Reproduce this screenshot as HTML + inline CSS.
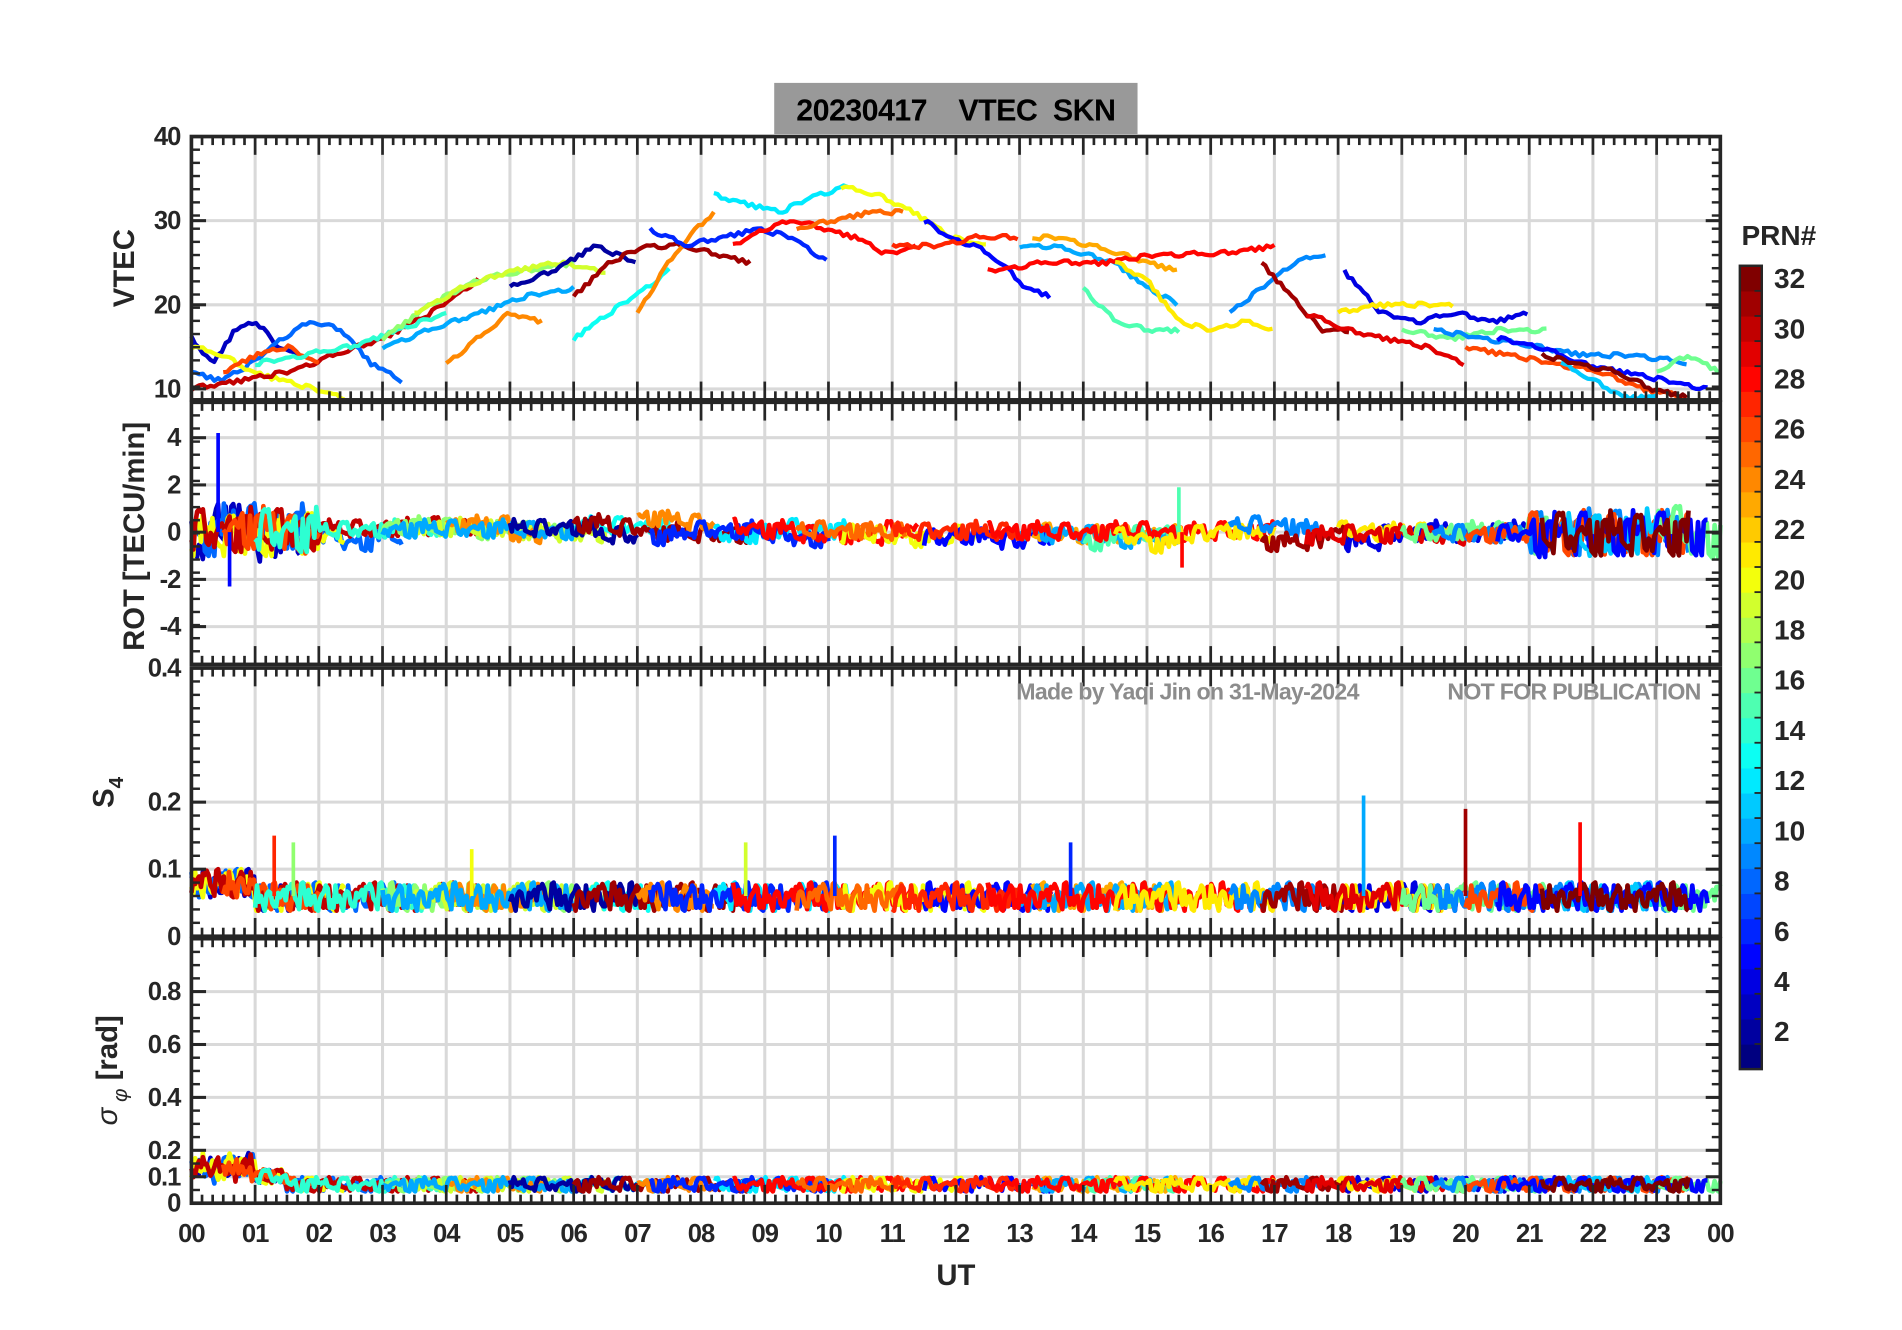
<!DOCTYPE html>
<html><head><meta charset="utf-8"><style>
html,body{margin:0;padding:0;background:#fff}
svg{display:block}
text{font-family:"Liberation Sans Narrow","Liberation Sans",sans-serif;font-weight:bold;fill:#262626}
.pre{white-space:pre}
</style></head><body>
<svg id="chart" width="1902" height="1330" viewBox="0 0 1560 1091" preserveAspectRatio="none" xmlns="http://www.w3.org/2000/svg">
<rect width="1560" height="1091" fill="#fff"/>
<g id="grid"></g>
<g id="marks"></g>
<g id="axes"></g>
<rect x="635" y="68" width="298" height="42" fill="#999"/>
<text class="pre" xml:space="preserve" x="784" y="99" text-anchor="middle" font-size="25" letter-spacing="-0.5" style="fill:#000">20230417    VTEC  SKN</text>
<text x="974" y="574" text-anchor="middle" font-size="19" letter-spacing="-0.6" style="fill:#8c8c8c">Made by Yaqi Jin on 31-May-2024</text>
<text x="1291" y="574" text-anchor="middle" font-size="19" letter-spacing="-0.6" style="fill:#8c8c8c">NOT FOR PUBLICATION</text>
<text x="784" y="1054" text-anchor="middle" font-size="24">UT</text>
<text transform="translate(110,220) rotate(-90)" text-anchor="middle" font-size="24" style="font-family:'Liberation Sans',sans-serif">VTEC</text>
<text transform="translate(118,440) rotate(-90)" text-anchor="middle" font-size="24" style="font-family:'Liberation Sans',sans-serif">ROT [TECU/min]</text>
<text transform="translate(93,650) rotate(-90)" text-anchor="middle" font-size="24" style="font-family:'Liberation Sans',sans-serif">S<tspan font-size="17" dy="8">4</tspan></text>
<text transform="translate(96,878) rotate(-90)" text-anchor="middle" font-size="24" style="font-family:'Liberation Sans',sans-serif"><tspan font-style="italic" font-weight="normal">σ</tspan><tspan font-size="17" dy="8" font-style="italic" font-weight="normal"> φ</tspan><tspan dy="-8"> [rad]</tspan></text>
<g id="cbar"></g>
<text x="1459" y="201" text-anchor="middle" font-size="23" style="font-family:'Liberation Sans',sans-serif">PRN#</text>
</svg>
<script>
const hourTicks=["00","01","02","03","04","05","06","07","08","09","10","11","12","13","14","15","16","17","18","19","20","21","22","23","00"];
const vtecTicks=[10,20,30,40];
const rotTicks=[-4,-2,0,2,4];
const s4Ticks=[0,0.1,0.2,0.4];
const sigTicks=[0,0.1,0.2,0.4,0.6,0.8];
const cbarTicks=[2,4,6,8,10,12,14,16,18,20,22,24,26,28,30,32];
// tracks: start hour, end hour, PRN, VTEC keypoints
const trackStart=[0,0,0,0,0.5,1,3,3.5,4,3,6,5,6,7,8.2,7.2,8.5,10.2,9.5,11.5,11,13.2,13,14,12.5,14.5,16.3,16.8,18.1,18,17.5,19,19.5,20,23,21.5,20.5,21.2];
const trackEnd=[1.7,3.3,2.4,4.5,2,4,6,6.5,5.5,6,7.5,7,8.8,8.2,10.3,10,11.4,12.5,11.2,13.5,13,15.5,15.5,15.5,17,17,17.8,18.2,21,19.8,20,21.3,23.5,23.5,24,23,23.8,23.5];
const trackPrn=[3,8,20,30,26,14,17,19,24,10,13,2,31,24,12,6,28,20,25,5,27,23,10,15,28,21,9,31,4,21,29,16,9,26,16,11,5,32];
const trackVtec=[[16,13,17,18,15,14],[12,11,13,16,18,17,13,11],[15,14,12,11,10,9],[10,11,12,14,16,19,23],[12,14,15,13],[13,14,15,17,19],[16,20,23,24,25],[19,22,24,25,24],[13,16,19,18],[15,17,19,21,22],[16,20,24],[22,24,27,25],[21,25,27,27,26,25],[19,24,28,31],[33,32,31,33,34],[29,27,28,29,28,25],[27,29,30,29,28,26,27],[34,33,31,28,27],[29,30,31,31],[30,28,27,25,22,21],[27,27,28,28],[28,28,27,26,25,24],[27,27,26,25,22,20],[22,18,17,17],[24,25,25,26,26,27],[25,23,18,17,18,17],[19,22,25,26],[25,21,17,17],[24,19,18,19,18,19],[19,20,20,20],[19,17,16,15,13],[17,16,17,17],[17,16,15,14,14,13],[15,14,13,12,10,9],[12,14,12],[13,11,9,9],[16,15,13,12,11,10],[14,13,12,10,9]];
const jitter=[0.3,-0.5,0.8,-0.2,0.1,-0.9,0.6,0.2,-0.4,0.9,-0.7,0.0,0.5,-0.3,0.7,-0.8,0.2,-0.1,0.4,-0.6,1.0,-0.2,0.3,-0.5,0.1,0.6,-0.9,0.4,-0.3,0.8,-0.6,0.2,-0.7,0.5,0.0,-0.4,0.9,-0.1,0.3,-0.8,0.6];
const s4SpikeHour=[1.3,1.6,4.4,8.7,10.1,13.8,18.4,20.0,21.8];
const s4SpikeVal=[0.15,0.14,0.13,0.14,0.15,0.14,0.21,0.19,0.17];
const s4SpikePrn=[27,17,20,19,6,6,10,31,28];
const rotSpikeHour=[0.42,0.6,15.5,15.55];
const rotSpikeVal=[4.2,-2.3,1.9,-1.5];
const rotSpikePrn=[5,5,15,28];

const X0=157,X1=1411;
const panels=[{t:112,b:328,lo:8.7,hi:40,ticks:vtecTicks,name:'vtec'},{t:330,b:545,lo:-5.6,hi:5.5,ticks:rotTicks,name:'rot'},{t:548,b:768,lo:0,hi:0.4,ticks:s4Ticks,name:'s4'},{t:770,b:987,lo:0,hi:1.0,ticks:sigTicks,name:'sigma'}];
const xs=h=>X0+(X1-X0)*h/24;
const ys=(p,v)=>p.b-(p.b-p.t)*(v-p.lo)/(p.hi-p.lo);
function jet(prn){const t=(prn-1)/31;const c=x=>Math.round(255*Math.max(0,Math.min(1,x)));return `rgb(${c(1.5-Math.abs(4*t-3))},${c(1.5-Math.abs(4*t-2))},${c(1.5-Math.abs(4*t-1))})`;}
const NS='http://www.w3.org/2000/svg';
function mk(tag,attrs,parent){const e=document.createElementNS(NS,tag);for(const k in attrs)e.setAttribute(k,attrs[k]);parent.appendChild(e);return e;}
const grid=document.getElementById('grid'),marks=document.getElementById('marks'),axes=document.getElementById('axes');

panels.forEach(p=>{
  for(let h=1;h<24;h++){const l=mk('line',{x1:xs(h),x2:xs(h),y1:p.t,y2:p.b,stroke:'#d9d9d9','stroke-width':2.5},grid);
    
    }
  p.ticks.forEach(v=>{const y=ys(p,v);if(y>p.t+2&&y<p.b-2){const l=mk('line',{x1:X0,x2:X1,y1:y,y2:y,stroke:'#d9d9d9','stroke-width':2.5},grid);
    
    }
    const t=mk('text',{x:X0-9,y:y+7,'text-anchor':'end','font-size':21,'letter-spacing':-0.8},axes);t.textContent=String(v);
    
    
    mk('line',{x1:X0,x2:X0+12,y1:y,y2:y,stroke:'#262626','stroke-width':2.5},axes);
    mk('line',{x1:X1,x2:X1-12,y1:y,y2:y,stroke:'#262626','stroke-width':2.5},axes);
  });
  for(let i=1;i<20;i++){const y=p.b-(p.b-p.t)*i/20;mk('line',{x1:X0,x2:X0+7,y1:y,y2:y,stroke:'#262626','stroke-width':2},axes);mk('line',{x1:X1,x2:X1-7,y1:y,y2:y,stroke:'#262626','stroke-width':2},axes);}
  for(let m=0;m<=144;m++){const x=X0+(X1-X0)*m/144;const L=m%6===0?15:7;
    mk('line',{x1:x,x2:x,y1:p.t,y2:p.t+L,stroke:'#262626','stroke-width':2.2},axes);
    mk('line',{x1:x,x2:x,y1:p.b,y2:p.b-L,stroke:'#262626','stroke-width':2.2},axes);}
  const f=mk('rect',{x:X0,y:p.t,width:X1-X0,height:p.b-p.t,fill:'none',stroke:'#262626','stroke-width':3},axes);
  
  
});
hourTicks.forEach((lab,i)=>{const t=mk('text',{x:xs(i),y:1019,'text-anchor':'middle','font-size':21,'letter-spacing':-0.8},axes);t.textContent=lab;
  
  });

function poly(pts,color,w,name){const e=mk('polyline',{points:pts.map(q=>q[0].toFixed(1)+','+q[1].toFixed(1)).join(' '),fill:'none',stroke:color,'stroke-width':w,'stroke-linejoin':'round'},marks);
  
  }
const P=panels;
trackStart.forEach((s,k)=>{
  const e=trackEnd[k],prn=trackPrn[k],kp=trackVtec[k],col=jet(prn);
  const n=Math.max(4,Math.round((e-s)/0.03));
  const v=[],r=[],s4=[],sg=[];
  for(let i=0;i<=n;i++){
    const h=s+(e-s)*i/n;const u=i/n*(kp.length-1);const a=Math.min(kp.length-2,Math.floor(u));const f=u-a;
    const j=jitter[(i*7+prn*3)%jitter.length],j2=jitter[(i*11+prn*5+3)%jitter.length];
    const val=kp[a]*(1-f)+kp[a+1]*f+j*0.3;
    if(i%2===0)v.push([xs(h),ys(P[0],val)]);
    const slope=(kp[a+1]-kp[a])/((e-s)/(kp.length-1))/60*3;
    const amp=(h<2||h>21)?1.0:0.4;
    r.push([xs(h),ys(P[1],slope+j*amp)]);
    s4.push([xs(h),ys(P[2],0.058+j2*0.022+(h<1?0.02:0))]);
    sg.push([xs(h),ys(P[3],(h<1.5?0.1:0.07)+j*0.028+(h<1?Math.abs(j2)*0.07:0))]);
  }
  poly(v,col,3.5,'vtec-prn'+prn);
  poly(r,col,3.8,'rot-prn'+prn);
  poly(s4,col,3.8,'s4-prn'+prn);
  poly(sg,col,3.8,'sigma-prn'+prn);
});
s4SpikeHour.forEach((h,i)=>{poly([[xs(h),ys(P[2],0.06)],[xs(h),ys(P[2],s4SpikeVal[i])]],jet(s4SpikePrn[i]),3,'s4-spike');});
rotSpikeHour.forEach((h,i)=>{poly([[xs(h),ys(P[1],0)],[xs(h),ys(P[1],rotSpikeVal[i])]],jet(rotSpikePrn[i]),3,'rot-spike');});

const cb=document.getElementById('cbar');const CT=218,CB=877,CX=1427,CW=18;
for(let i=0;i<32;i++){const h=(CB-CT)/32;mk('rect',{x:CX,y:CB-(i+1)*h,width:CW,height:h+0.5,fill:jet(i+1)},cb);}
for(let i=1;i<32;i++){const y=CB-(CB-CT)*i/32;mk('line',{x1:CX+CW-6,x2:CX+CW,y1:y,y2:y,stroke:'#262626','stroke-width':1.5},cb);}
mk('rect',{x:CX,y:CT,width:CW,height:CB-CT,fill:'none',stroke:'#262626','stroke-width':2},cb);
const cy=v=>CB-(CB-CT)*(v-0.5)/32;
cbarTicks.forEach(v=>{const t=mk('text',{x:CX+28,y:cy(v)+8,'font-size':23,style:"font-family:'Liberation Sans',sans-serif"},cb);t.textContent=String(v);
  
  });
</script>
</body></html>
